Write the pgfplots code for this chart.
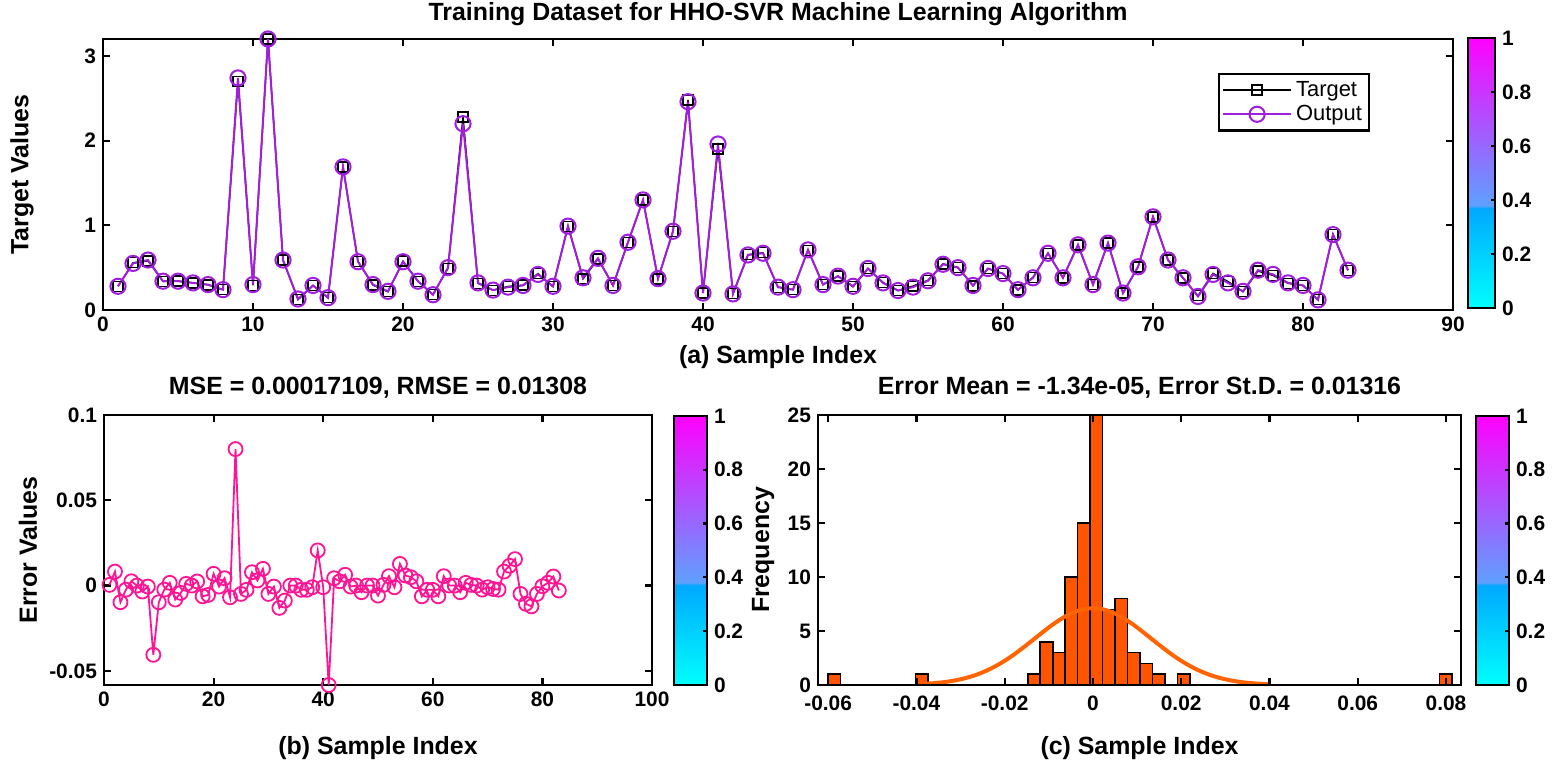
\documentclass[border=0pt]{standalone}
\usepackage{fontspec}
\setmainfont{Liberation Sans}
\usepackage{pgfplots}
\usepackage{pgfplotstable}
\pgfplotsset{compat=1.18}
\definecolor{purp}{RGB}{160,30,220}
\definecolor{errpink}{RGB}{255,20,147}
\definecolor{histor}{RGB}{255,85,0}
\definecolor{curveor}{RGB}{255,100,0}
\newcommand\tickfont{\bfseries\fontsize{10.5}{12}\selectfont}
\newcommand\labfont{\bfseries\fontsize{12.5}{14}\selectfont}

\pgfplotstableread{
x target output err
1 0.280 0.280 0.0004
2 0.558 0.550 0.0082
3 0.580 0.590 -0.0098
4 0.338 0.340 -0.0024
5 0.343 0.340 0.0025
6 0.320 0.320 0.0000
7 0.297 0.300 -0.0035
8 0.239 0.240 -0.0006
9 2.699 2.740 -0.0406
10 0.290 0.300 -0.0098
11 3.198 3.200 -0.0024
12 0.592 0.590 0.0016
13 0.122 0.130 -0.0082
14 0.286 0.290 -0.0043
15 0.146 0.145 0.0010
16 1.690 1.690 0.0000
17 0.572 0.570 0.0024
18 0.294 0.300 -0.0063
19 0.215 0.220 -0.0055
20 0.577 0.570 0.0069
21 0.339 0.340 -0.0006
22 0.184 0.180 0.0043
23 0.493 0.500 -0.0069
24 2.280 2.200 0.0800
25 0.315 0.320 -0.0049
26 0.233 0.235 -0.0025
27 0.278 0.270 0.0078
28 0.293 0.290 0.0030
29 0.430 0.420 0.0098
30 0.275 0.280 -0.0049
31 0.989 0.990 -0.0006
32 0.367 0.380 -0.0131
33 0.601 0.610 -0.0088
34 0.290 0.290 0.0000
35 0.800 0.800 0.0000
36 1.298 1.300 -0.0025
37 0.368 0.370 -0.0025
38 0.929 0.930 -0.0010
39 2.481 2.460 0.0206
40 0.199 0.200 -0.0010
41 1.902 1.960 -0.0583
42 0.194 0.190 0.0043
43 0.653 0.650 0.0025
44 0.676 0.670 0.0063
45 0.269 0.270 -0.0006
46 0.240 0.240 0.0000
47 0.706 0.710 -0.0039
48 0.300 0.300 0.0000
49 0.400 0.400 0.0000
50 0.274 0.280 -0.0059
51 0.490 0.490 0.0004
52 0.326 0.320 0.0055
53 0.229 0.230 -0.0010
54 0.283 0.270 0.0127
55 0.351 0.345 0.0059
56 0.545 0.540 0.0049
57 0.503 0.500 0.0025
58 0.284 0.290 -0.0063
59 0.488 0.490 -0.0025
60 0.428 0.430 -0.0025
61 0.234 0.240 -0.0063
62 0.386 0.380 0.0055
63 0.670 0.670 0.0000
64 0.380 0.380 0.0000
65 0.766 0.770 -0.0039
66 0.302 0.300 0.0016
67 0.790 0.790 0.0004
68 0.200 0.200 0.0000
69 0.508 0.510 -0.0024
70 1.099 1.100 -0.0010
71 0.588 0.590 -0.0020
72 0.378 0.380 -0.0024
73 0.168 0.160 0.0082
74 0.432 0.420 0.0116
75 0.336 0.320 0.0155
76 0.215 0.220 -0.0049
77 0.459 0.470 -0.0107
78 0.408 0.420 -0.0122
79 0.315 0.320 -0.0049
80 0.290 0.290 -0.0004
81 0.122 0.120 0.0016
82 0.895 0.890 0.0053
83 0.467 0.470 -0.0029
}\datatab

\pgfplotstableread{
c n
-0.05859 1
-0.03880 1
-0.01335 1
-0.01053 4
-0.00770 3
-0.00487 10
-0.00205 15
0.00078 25
0.00361 7
0.00644 8
0.00926 3
0.01209 2
0.01492 1
0.02057 1
0.07994 1
}\histtab

\pgfplotstableread{
x y
-0.038 0.11
-0.036 0.17
-0.034 0.25
-0.032 0.37
-0.030 0.53
-0.028 0.74
-0.026 1.01
-0.024 1.35
-0.022 1.76
-0.020 2.24
-0.018 2.79
-0.016 3.40
-0.014 4.04
-0.012 4.69
-0.010 5.33
-0.008 5.91
-0.006 6.41
-0.004 6.79
-0.002 7.03
0.000 7.11
0.002 7.03
0.004 6.79
0.006 6.41
0.008 5.91
0.010 5.33
0.012 4.69
0.014 4.04
0.016 3.40
0.018 2.79
0.020 2.24
0.022 1.76
0.024 1.35
0.026 1.01
0.028 0.74
0.030 0.53
0.032 0.37
0.034 0.25
0.036 0.17
0.038 0.11
0.040 0.07
}\curvetab

\pgfplotsset{
  mybox/.style={
    scale only axis, anchor=south west, clip=false,
    axis line style={line width=1.4bp},
    every tick/.style={line width=1.1bp, black},
    major tick length=3.5bp, tick align=inside,
    xtick pos=both, ytick pos=both,
    ticklabel style={font=\tickfont},
    /pgf/number format/assume math mode=true,
    scaled ticks=false,
    ylabel style={font=\labfont},
    xlabel style={font=\labfont, at={(axis description cs:0.5,#1)}, anchor=center},
    every axis title/.style={font=\labfont, anchor=center},
  },
  mybox/.default={-0.233},
  cbar/.style={
    scale only axis, anchor=south west,
    xmin=0, xmax=1, ymin=0, ymax=1, enlargelimits=false,
    xtick=\empty, ytick={0,0.2,0.4,0.6,0.8,1},
    yticklabels={0,0.2,0.4,0.6,0.8,1},
    yticklabel pos=right, ytick pos=right,
    tick align=inside, major tick length=2bp,
    every tick/.style={line width=1.1bp, black},
    axis line style={line width=1.4bp},
    ticklabel style={font=\tickfont},
    axis on top,
    colormap={cb}{rgb255(0pt)=(0,255,255); rgb255(37pt)=(0,168,255); rgb255(38pt)=(95,160,255); rgb255(100pt)=(255,0,255)},
  },
}

\begin{document}
\begin{tikzpicture}
\useasboundingbox (0,0) rectangle (781bp,386bp);

% ---------- (a) top panel ----------
\begin{axis}[mybox={-0.173},
  at={(51.5bp,231bp)}, width=675bp, height=135.5bp,
  xmin=0, xmax=90, ymin=0, ymax=3.2,
  xtick={0,10,...,90}, ytick={0,1,2,3},
  xlabel={(a) Sample Index}, ylabel={Target Values},
  ylabel style={at={(axis description cs:-0.06,0.5)}, anchor=center},
  title={Training Dataset for HHO-SVR Machine Learning Algorithm},
  title style={at={(axis description cs:0.5,1.092)}},
  legend style={at={(0.9385,0.8745)}, anchor=north east, draw=black,
    line width=1.1bp, font=\fontsize{11}{12.5}\selectfont,
    inner sep=1.5bp, row sep=-1bp},
  legend cell align=left,
  legend image code/.code={\draw[mark repeat=2,mark phase=2,#1] plot coordinates {(0cm,0cm) (0.6cm,0cm) (1.2cm,0cm)};},
]
\addplot[black, line width=0.7bp, mark=square, mark size=2.5bp, mark options={line width=0.7bp}] table[x=x, y=target] {\datatab};
\addlegendentry{Target}
\addplot[purp, line width=1bp, mark=o, mark size=3.8bp, mark options={line width=1bp}] table[x=x, y=output] {\datatab};
\addlegendentry{Output}
\end{axis}

\begin{axis}[cbar, at={(734bp,232bp)}, width=13.5bp, height=135bp]
\addplot[surf, shader=interp, point meta=y, mesh/cols=2, draw=none] coordinates {
(0,0) (1,0) (0,0.1) (1,0.1) (0,0.2) (1,0.2) (0,0.3) (1,0.3) (0,0.369) (1,0.369)
(0,0.371) (1,0.371) (0,0.45) (1,0.45) (0,0.55) (1,0.55) (0,0.65) (1,0.65)
(0,0.75) (1,0.75) (0,0.85) (1,0.85) (0,0.95) (1,0.95) (0,1) (1,1)};
\end{axis}

% ---------- (b) error panel ----------
\begin{axis}[mybox,
  at={(52bp,43.5bp)}, width=274bp, height=135bp,
  xmin=0, xmax=100, ymin=-0.0583, ymax=0.1,
  xtick={0,20,...,100},
  ytick={-0.05,0,0.05,0.1}, yticklabels={-0.05,0,0.05,0.1},
  xlabel={(b) Sample Index}, ylabel={Error Values},
  ylabel style={at={(axis description cs:-0.1387,0.5)}, anchor=center},
  title={MSE = 0.00017109, RMSE = 0.01308},
  title style={at={(axis description cs:0.5,1.1)}},
]
\addplot[errpink, line width=0.9bp, mark=o, mark size=3.5bp, mark options={line width=0.9bp}] table[x=x, y=err] {\datatab};
\end{axis}

\begin{axis}[cbar, at={(337bp,43.5bp)}, width=16.5bp, height=134.5bp]
\addplot[surf, shader=interp, point meta=y, mesh/cols=2, draw=none] coordinates {
(0,0) (1,0) (0,0.1) (1,0.1) (0,0.2) (1,0.2) (0,0.3) (1,0.3) (0,0.369) (1,0.369)
(0,0.371) (1,0.371) (0,0.45) (1,0.45) (0,0.55) (1,0.55) (0,0.65) (1,0.65)
(0,0.75) (1,0.75) (0,0.85) (1,0.85) (0,0.95) (1,0.95) (0,1) (1,1)};
\end{axis}

% ---------- (c) histogram ----------
\begin{axis}[mybox,
  at={(409bp,43.5bp)}, width=321.5bp, height=135bp,
  xmin=-0.0623, xmax=0.0834, ymin=0, ymax=25,
  xtick={-0.06,-0.04,-0.02,0,0.02,0.04,0.06,0.08},
  xticklabels={-0.06,-0.04,-0.02,0,0.02,0.04,0.06,0.08},
  xticklabel style={yshift=-2bp},
  ytick={0,5,...,25},
  xlabel={(c) Sample Index}, ylabel={Frequency},
  ylabel style={at={(axis description cs:-0.0855,0.5)}, anchor=center},
  title={Error Mean = -1.34e-05, Error St.D. = 0.01316},
  title style={at={(axis description cs:0.5,1.1)}},
  axis on top,
]
\addplot[ybar, bar width=0.002827, fill=histor, draw=black, line width=0.8bp] table[x=c, y=n] {\histtab};
\addplot[curveor, line width=2bp, smooth] table[x=x, y=y] {\curvetab};
\end{axis}

\begin{axis}[cbar, at={(738bp,43.5bp)}, width=16.5bp, height=134.5bp]
\addplot[surf, shader=interp, point meta=y, mesh/cols=2, draw=none] coordinates {
(0,0) (1,0) (0,0.1) (1,0.1) (0,0.2) (1,0.2) (0,0.3) (1,0.3) (0,0.369) (1,0.369)
(0,0.371) (1,0.371) (0,0.45) (1,0.45) (0,0.55) (1,0.55) (0,0.65) (1,0.65)
(0,0.75) (1,0.75) (0,0.85) (1,0.85) (0,0.95) (1,0.95) (0,1) (1,1)};
\end{axis}
\end{tikzpicture}
\end{document}
